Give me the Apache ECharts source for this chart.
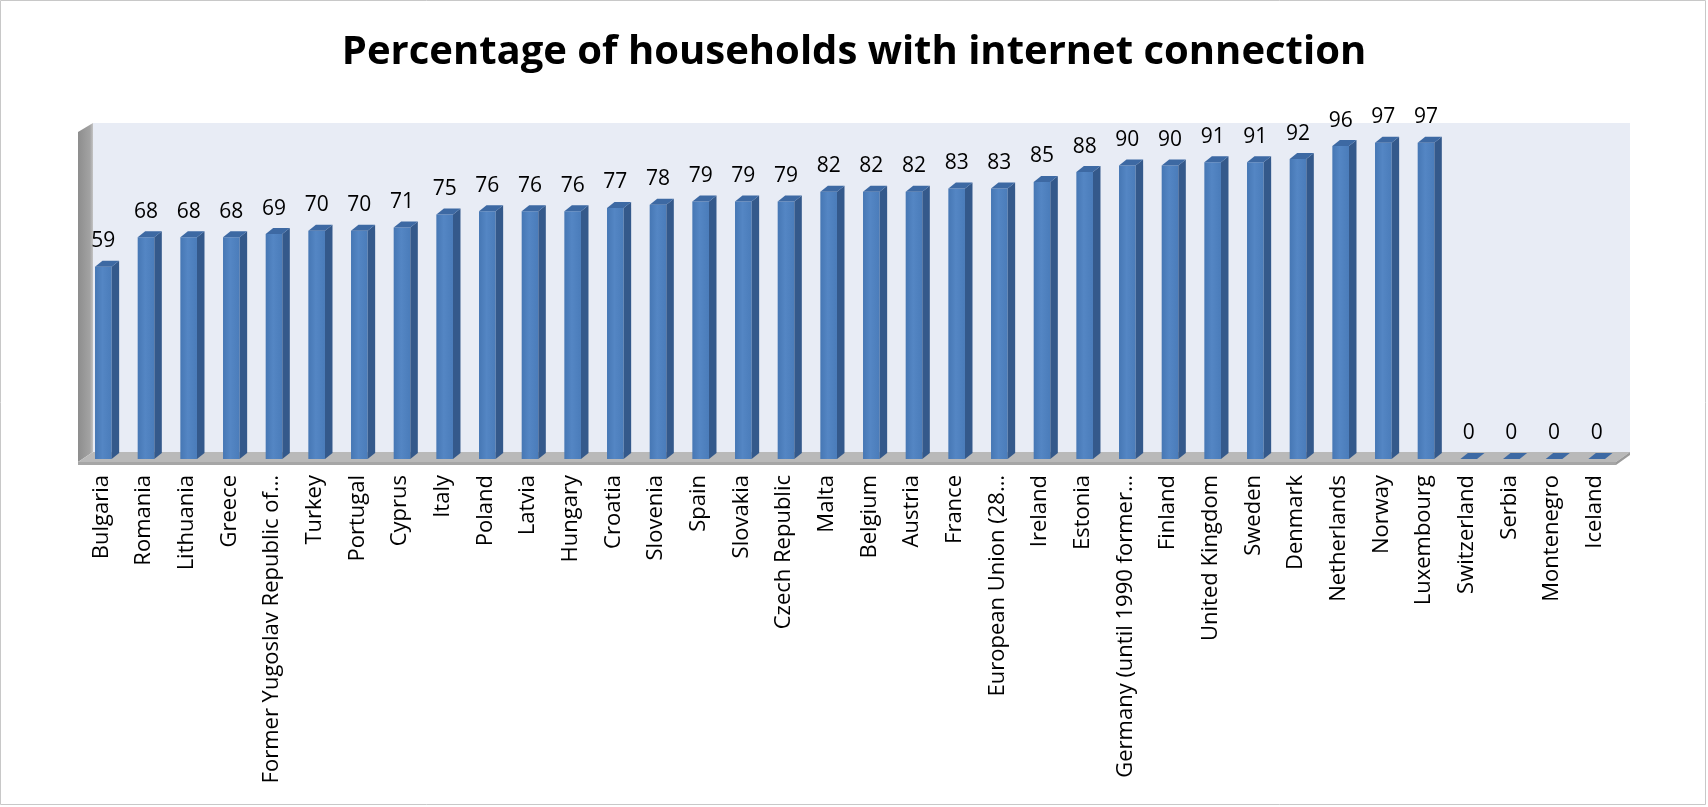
<!DOCTYPE html>
<html>
<head>
<meta charset="utf-8">
<script src="https://cdn.jsdelivr.net/npm/echarts@6/dist/echarts.min.js"></script>
<style>
    html, body {margin: 0; padding: 0; background: #fff;}
    #chart {width: 1708px; height: 807px;}
</style>
</head>
<body>
<div id="chart"></div>
<script>
const countries = [
    "Bulgaria", "Romania", "Lithuania", "Greece", "Former Yugoslav Republic of…",
    "Turkey", "Portugal", "Cyprus", "Italy", "Poland", "Latvia", "Hungary",
    "Croatia", "Slovenia", "Spain", "Slovakia", "Czech Republic", "Malta",
    "Belgium", "Austria", "France", "European Union (28…", "Ireland", "Estonia",
    "Germany (until 1990 former…", "Finland", "United Kingdom", "Sweden",
    "Denmark", "Netherlands", "Norway", "Luxembourg", "Switzerland", "Serbia",
    "Montenegro", "Iceland"
];
const households = [
    59, 68, 68, 68, 69, 70, 70, 71, 75, 76, 76, 76, 77, 78, 79, 79, 79, 82,
    82, 82, 83, 83, 85, 88, 90, 90, 91, 91, 92, 96, 97, 97, 0, 0, 0, 0
];
const titleText = "Percentage of households with internet connection";

const myChart = echarts.init(document.getElementById("chart"));

// 3d look: bar depth offset
const DX = 7.5, DY = 6;

function renderBar(params, api) {
    const i = api.value(0);
    const v = api.value(1);
    const base = api.coord([i, 0]);
    const top = api.coord([i, v]);
    const band = api.size([1, 0])[0];
    const w = band * 0.39;
    const x0 = base[0] - w / 2 + 2;
    const x1 = x0 + w;
    const yb = base[1];
    const yt = top[1];
    const children = [];
    if (yb - yt > 0.5) {
        children.push({
            type: "rect",
            shape: {x: x0, y: yt, width: w, height: yb - yt},
            style: {
                fill: new echarts.graphic.LinearGradient(0, 0, 1, 0, [
                    {offset: 0, color: "#4677b4"},
                    {offset: 0.45, color: "#5486c4"},
                    {offset: 1, color: "#4a7cba"},
                ]),
            },
        });
        children.push({
            type: "polygon",
            shape: {points: [[x1, yt], [x1 + DX, yt - DY], [x1 + DX, yb - DY], [x1, yb]]},
            style: {fill: "#34598b"},
        });
    }
    children.push({
        type: "polygon",
        shape: {points: [[x0, yt], [x0 + DX, yt - DY], [x1 + DX, yt - DY], [x1, yt]]},
        style: {fill: "#3d69a3"},
    });
    children.push({
        type: "text",
        style: {
            text: String(v),
            x: x0 + w / 2,
            y: yt - 15,
            align: "center",
            verticalAlign: "bottom",
            fontFamily: "Open Sans",
            fontSize: 21,
            fill: "#000",
        },
    });
    return {type: "group", children: children};
}

const option = {
    backgroundColor: "#fff",
    animation: false,
    title: {
        text: titleText,
        left: "center",
        top: 28,
        textStyle: {
            fontFamily: "Open Sans",
            fontWeight: "bold",
            fontSize: 40,
            color: "#000",
        },
    },
    grid: {
        left: 80,
        right: 92,
        top: 133,
        bottom: 348,
    },
    xAxis: {
        type: "category",
        data: countries,
        axisLine: {show: false},
        axisTick: {show: false},
        axisLabel: {
            interval: 0,
            rotate: 90,
            margin: 16,
            fontFamily: "Open Sans",
            fontSize: 22,
            color: "#000",
        },
    },
    yAxis: {
        type: "value",
        min: 0,
        max: 100,
        show: false,
    },
    graphic: [
        {   // outer border
            type: "rect", z: -10,
            shape: {x: 0.5, y: 0.5, width: 1705, height: 804},
            style: {fill: "none", stroke: "#c8c8c8", lineWidth: 1},
        },
        {   // back wall
            type: "rect", z: -5,
            shape: {x: 93, y: 123, width: 1537, height: 330},
            style: {fill: "#e8ecf5"},
        },
        {   // side wall
            type: "polygon", z: -4,
            shape: {points: [[78, 132], [93, 123], [93, 452], [78, 462]]},
            style: {
                fill: new echarts.graphic.LinearGradient(0, 0, 1, 0, [
                    {offset: 0, color: "#8d8d8d"},
                    {offset: 0.8, color: "#a3a3a3"},
                    {offset: 1, color: "#c4c4c4"},
                ]),
            },
        },
        {   // floor
            type: "polygon", z: -4,
            shape: {points: [[78, 462], [93, 452], [1630, 452], [1616, 462]]},
            style: {fill: "#b9b9b9"},
        },
        {
            type: "polygon", z: -4,
            shape: {points: [[78, 462], [1616, 462], [1616, 465], [78, 465]]},
            style: {fill: "#a6a6a6"},
        },
        {
            type: "polygon", z: -4,
            shape: {points: [[1616, 462], [1630, 452], [1630, 455], [1616, 465]]},
            style: {fill: "#9a9a9a"},
        },
    ],
    series: [
        {
            type: "custom",
            renderItem: renderBar,
            data: households.map((v, i) => [i, v]),
            encode: {x: 0, y: 1},
            z: 5,
        },
    ],
};

option && myChart.setOption(option);
</script>
</body>
</html>
